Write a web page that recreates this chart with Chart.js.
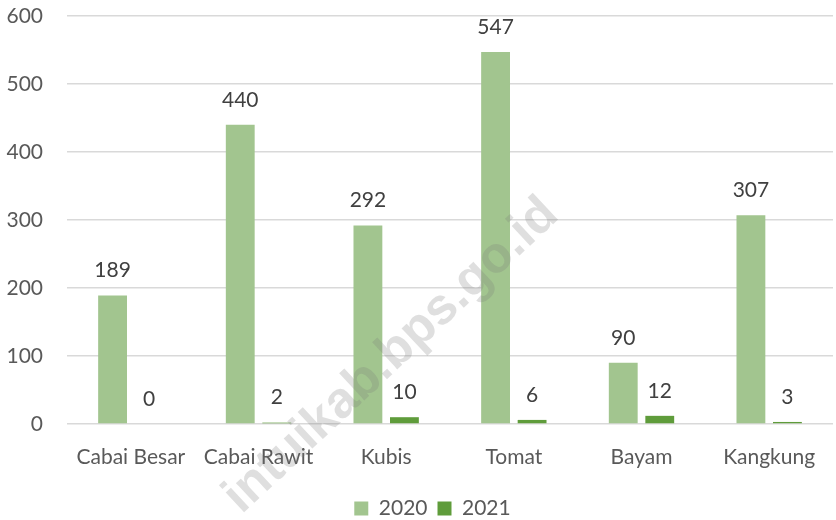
<!DOCTYPE html>
<html>
<head>
<meta charset="utf-8">
<script src="https://cdn.jsdelivr.net/npm/chart.js@4/dist/chart.umd.min.js"></script>
<style>
  html, body { margin: 0; padding: 0; background: #fff; }
  #wrap { width: 836px; height: 520px; position: relative; }
</style>
</head>
<body>
<div id="wrap"><canvas id="c" width="836" height="520"></canvas></div>
<script>
const categories = ["Cabai Besar", "Cabai Rawit", "Kubis", "Tomat", "Bayam", "Kangkung"];
const values2020 = [189, 440, 292, 547, 90, 307];
const values2021 = [0, 2, 10, 6, 12, 3];
const seriesNames = ["2020", "2021"];
const yTicks = [0, 100, 200, 300, 400, 500, 600];
const watermarkText = "intuikab.bps.go.id";

const FONT = "Lato, 'Open Sans', sans-serif";
const FS = 21;

const valueLabels = {
  id: 'valueLabels',
  afterDatasetsDraw(chart) {
    const ctx = chart.ctx;
    ctx.save();
    ctx.font = FS + "px " + FONT;
    ctx.fillStyle = "#404040";
    ctx.textAlign = "center";
    ctx.textBaseline = "middle";
    chart.data.datasets.forEach((ds, i) => {
      const meta = chart.getDatasetMeta(i);
      meta.data.forEach((bar, j) => {
        ctx.fillText(String(ds.data[j]), bar.x, bar.y - 25);
      });
    });
    ctx.restore();
  }
};

const legendShift = {
  id: 'legendShift',
  afterLayout(chart) {
    const lg = chart.legend;
    if (lg) { lg.left += 16; lg.right += 16; lg.top += 9; lg.bottom += 9; }
  }
};

const watermark = {
  id: 'watermark',
  afterDraw(chart) {
    const ctx = chart.ctx;
    ctx.save();
    ctx.translate(551, 207);
    ctx.rotate(-43 * Math.PI / 180);
    ctx.font = "bold 51px 'Liberation Sans', Arial, sans-serif";
    ctx.fillStyle = "rgba(120,120,120,0.24)";
    ctx.textAlign = "right";
    ctx.textBaseline = "middle";
    ctx.fillText(watermarkText, 0, 0);
    ctx.restore();
  }
};

new Chart(document.getElementById('c'), {
  type: 'bar',
  data: {
    labels: categories,
    datasets: [
      { label: seriesNames[0], data: values2020, backgroundColor: "#A2C58F", categoryPercentage: 0.572, barPercentage: 0.79 },
      { label: seriesNames[1], data: values2021, backgroundColor: "#5F9C3B", categoryPercentage: 0.572, barPercentage: 0.79 }
    ]
  },
  options: {
    responsive: false,
    animation: false,
    devicePixelRatio: 1,
    layout: { padding: { top: 16, right: 3, left: 0, bottom: 0 } },
    plugins: {
      tooltip: { enabled: false },
      legend: {
        position: 'bottom',
        labels: {
          font: { family: FONT, size: FS },
          color: "#595959",
          boxWidth: 14,
          boxHeight: 14,
          padding: 10
        }
      }
    },
    scales: {
      x: {
        grid: { display: false, drawTicks: false },
        border: { display: false },
        ticks: { font: { family: FONT, size: FS }, color: "#595959", padding: 21, maxRotation: 0 },
        afterFit(s) { s.height = 55; s.paddingLeft = 0; s.paddingRight = 0; }
      },
      y: {
        min: 0, max: 600,
        afterBuildTicks(s) { s.ticks = yTicks.map(v => ({ value: v })); },
        grid: { color: "#D9D9D9", lineWidth: 1.5, drawTicks: false },
        border: { display: false },
        ticks: { font: { family: FONT, size: FS }, color: "#595959", padding: 24 },
        afterFit(s) { s.width = 67; s.paddingTop = 0; s.paddingBottom = 0; }
      }
    }
  },
  plugins: [valueLabels, legendShift, watermark]
});
</script>
</body>
</html>
